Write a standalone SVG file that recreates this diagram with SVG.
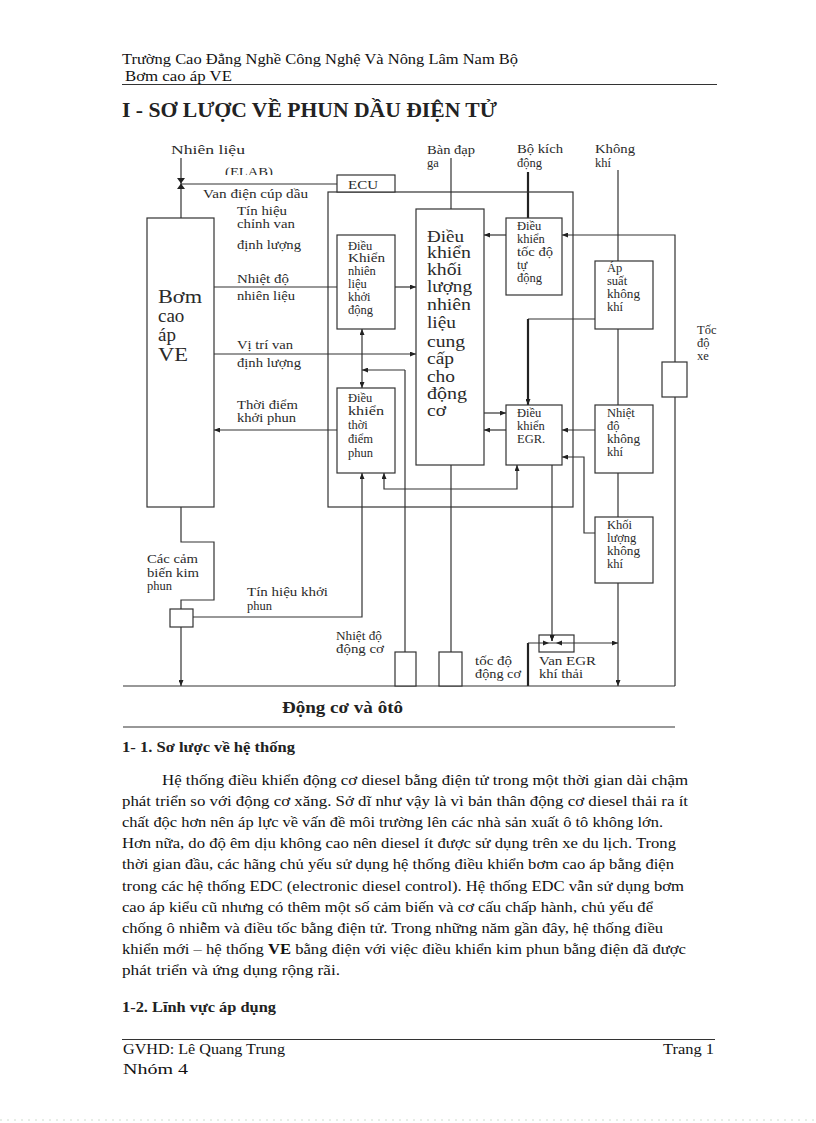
<svg xmlns="http://www.w3.org/2000/svg" width="816" height="1123" viewBox="0 0 816 1123">
<style>
.ln{fill:none;stroke:#333;stroke-width:1.2}
.th{fill:none;stroke:#222;stroke-width:2.2}
.bx{fill:#fff;stroke:#333;stroke-width:1.2}
.fr{fill:none;stroke:#333;stroke-width:1.2}
.lb{font-family:"Liberation Serif","Times New Roman",serif;font-size:12.5px;fill:#2a2a2a}
.bl{font-family:"Liberation Serif","Times New Roman",serif;font-size:12.5px;fill:#2a2a2a}
.big{font-family:"Liberation Serif","Times New Roman",serif;font-size:16px;fill:#2a2a2a}
.pump{font-family:"Liberation Serif","Times New Roman",serif;font-size:19px;fill:#2a2a2a}
.tx{font-family:"Liberation Serif","Times New Roman",serif;font-size:15.5px;fill:#111}
.hd{font-family:"Liberation Serif","Times New Roman",serif;font-weight:bold;fill:#222}
.rule{stroke:#333;stroke-width:1}
</style>
<defs>
<marker id="ar" viewBox="0 0 6 5" markerWidth="6" markerHeight="5" refX="6" refY="2.5" orient="auto-start-reverse" markerUnits="userSpaceOnUse">
<path d="M0,0 L6,2.5 L0,5 z" fill="#222"/>
</marker>
<clipPath id="elabclip"><rect x="200" y="150" width="100" height="25"/></clipPath>
</defs>
<rect width="816" height="1123" fill="#fff"/>

<!-- header -->
<g id="header">
<text class="tx" x="122" y="64" textLength="396" lengthAdjust="spacingAndGlyphs">Trường Cao Đẳng Nghề Công Nghệ Và Nông Lâm Nam Bộ</text>
<text class="tx" x="125" y="81" textLength="107" lengthAdjust="spacingAndGlyphs">Bơm cao áp VE</text>
<line class="rule" x1="122" y1="84.5" x2="717" y2="84.5"/>
<text class="hd" x="122" y="117" font-size="20" textLength="375" lengthAdjust="spacingAndGlyphs">I - SƠ LƯỢC VỀ PHUN DẦU ĐIỆN TỬ</text>
</g>

<!-- connectors -->
<g id="connectors">
<path class="ln" d="M181,158 V218"/>
<path class="ln" d="M181,184 H337"/>
<polygon points="177,178 185,178 181,183.5" fill="#222"/>
<polygon points="177,189 185,189 181,183.5" fill="#222"/>
<path class="ln" d="M214,287 H337"/>
<path class="ln" d="M395,287 H416" marker-end="url(#ar)"/>
<path class="ln" d="M214,354 H416" marker-end="url(#ar)"/>
<path class="ln" d="M337,430 H214" marker-end="url(#ar)"/>
<path class="ln" d="M362,329 V388" marker-start="url(#ar)" marker-end="url(#ar)"/>
<path class="ln" d="M405,370 H362" marker-end="url(#ar)"/>
<path class="ln" d="M405,370 V652"/>
<path class="ln" d="M193,617 H362 V473" marker-end="url(#ar)"/>
<path class="ln" d="M384,473 V489 H517 V465" marker-start="url(#ar)" marker-end="url(#ar)"/>
<path class="ln" d="M181,507 V542 H214 V600 H181 V609"/>
<path class="ln" d="M181,627 V686" marker-end="url(#ar)"/>
<path class="ln" d="M451,158 V209"/>
<path class="th" d="M528,172 V218"/>
<path class="ln" d="M506,235 H484" marker-end="url(#ar)"/>
<path class="ln" d="M675,686 V235 H562" marker-end="url(#ar)"/>
<path class="ln" d="M618,170 V261"/>
<path class="ln" d="M595,319 H528"/>
<path class="th" d="M528,319 V405" marker-end="url(#ar)"/>
<path class="ln" d="M618,329 V405"/>
<path class="ln" d="M618,473 V517"/>
<path class="ln" d="M618,583 V686" marker-end="url(#ar)"/>
<path class="ln" d="M484,413 H506" marker-end="url(#ar)"/>
<path class="ln" d="M506,430 H484" marker-end="url(#ar)"/>
<path class="ln" d="M595,430 H562" marker-end="url(#ar)"/>
<path class="ln" d="M595,533 H584 V457 H562" marker-end="url(#ar)"/>
<path class="ln" d="M451,465 V652"/>
<path class="ln" d="M552,465 V641" marker-end="url(#ar)"/>
<path class="th" d="M528,686 V643"/>
<path class="ln" d="M528,643 H618" marker-end="url(#ar)"/>
<path class="ln" d="M123,686 H675"/>
<path class="ln" d="M123,727 H675"/>
</g>

<!-- ECU frame -->
<g id="ecu">
<rect class="fr" x="328" y="192" width="245" height="315"/>
<rect class="bx" x="337" y="175" width="58" height="17"/>
<text class="lb" x="348" y="189" textLength="30" lengthAdjust="spacingAndGlyphs">ECU</text>
</g>

<g id="bom-cao-ap">
<rect class="bx" x="147" y="218" width="67" height="289"/>
<text class="pump" x="158" y="303" textLength="44" lengthAdjust="spacingAndGlyphs">Bơm</text>
<text class="pump" x="158" y="322">cao</text>
<text class="pump" x="158" y="341">áp</text>
<text class="pump" x="158" y="361" textLength="30" lengthAdjust="spacingAndGlyphs">VE</text>
</g>

<g id="dk-nhien-lieu-khoi-dong">
<rect class="bx" x="337" y="235" width="58" height="94"/>
<text class="bl" x="348" y="250">Điều</text>
<text class="bl" x="348" y="262" textLength="37" lengthAdjust="spacingAndGlyphs">Khiển</text>
<text class="bl" x="348" y="275">nhiên</text>
<text class="bl" x="348" y="288">liệu</text>
<text class="bl" x="348" y="301">khởi</text>
<text class="bl" x="348" y="314">động</text>
</g>

<g id="dk-thoi-diem-phun">
<rect class="bx" x="337" y="388" width="58" height="85"/>
<text class="bl" x="348" y="402">Điều</text>
<text class="bl" x="348" y="415" textLength="36" lengthAdjust="spacingAndGlyphs">khiển</text>
<text class="bl" x="348" y="429">thời</text>
<text class="bl" x="348" y="443">điểm</text>
<text class="bl" x="348" y="457">phun</text>
</g>

<g id="dk-khoi-luong-nhien-lieu">
<rect class="bx" x="416" y="209" width="68" height="256"/>
<text class="big" x="427" y="242" textLength="37" lengthAdjust="spacingAndGlyphs">Điều</text>
<text class="big" x="427" y="258" textLength="44" lengthAdjust="spacingAndGlyphs">khiển</text>
<text class="big" x="427" y="275" textLength="35" lengthAdjust="spacingAndGlyphs">khối</text>
<text class="big" x="427" y="292" textLength="45" lengthAdjust="spacingAndGlyphs">lượng</text>
<text class="big" x="427" y="310" textLength="44" lengthAdjust="spacingAndGlyphs">nhiên</text>
<text class="big" x="427" y="328" textLength="29" lengthAdjust="spacingAndGlyphs">liệu</text>
<text class="big" x="427" y="347" textLength="38" lengthAdjust="spacingAndGlyphs">cung</text>
<text class="big" x="427" y="364" textLength="27" lengthAdjust="spacingAndGlyphs">cấp</text>
<text class="big" x="427" y="382" textLength="28" lengthAdjust="spacingAndGlyphs">cho</text>
<text class="big" x="427" y="399" textLength="40" lengthAdjust="spacingAndGlyphs">động</text>
<text class="big" x="427" y="416" textLength="19" lengthAdjust="spacingAndGlyphs">cơ</text>
</g>

<g id="dk-toc-do-tu-dong">
<rect class="bx" x="506" y="218" width="56" height="77"/>
<text class="bl" x="517" y="230">Điều</text>
<text class="bl" x="517" y="243">khiển</text>
<text class="bl" x="517" y="256" textLength="36" lengthAdjust="spacingAndGlyphs">tốc độ</text>
<text class="bl" x="517" y="269">tự</text>
<text class="bl" x="517" y="282">động</text>
</g>

<g id="dk-egr">
<rect class="bx" x="506" y="405" width="56" height="60"/>
<text class="bl" x="517" y="417">Điều</text>
<text class="bl" x="517" y="430">khiển</text>
<text class="bl" x="517" y="443">EGR.</text>
</g>

<g id="ap-suat-khong-khi">
<rect class="bx" x="595" y="261" width="58" height="68"/>
<text class="bl" x="607" y="272">Áp</text>
<text class="bl" x="607" y="285">suất</text>
<text class="bl" x="607" y="298" textLength="33" lengthAdjust="spacingAndGlyphs">không</text>
<text class="bl" x="607" y="311">khí</text>
</g>

<g id="nhiet-do-khong-khi">
<rect class="bx" x="595" y="405" width="58" height="68"/>
<text class="bl" x="607" y="417">Nhiệt</text>
<text class="bl" x="607" y="430">độ</text>
<text class="bl" x="607" y="443" textLength="33" lengthAdjust="spacingAndGlyphs">không</text>
<text class="bl" x="607" y="456">khí</text>
</g>

<g id="khoi-luong-khong-khi">
<rect class="bx" x="595" y="517" width="58" height="66"/>
<text class="bl" x="607" y="529">Khối</text>
<text class="bl" x="607" y="542">lượng</text>
<text class="bl" x="607" y="555" textLength="33" lengthAdjust="spacingAndGlyphs">không</text>
<text class="bl" x="607" y="568">khí</text>
</g>

<g id="cam-bien-toc-do-xe">
<rect class="bx" x="662" y="362" width="25" height="35"/>
</g>
<g id="cam-bien-kim-phun">
<rect class="bx" x="170" y="609" width="23" height="18"/>
</g>
<g id="cam-bien-nhiet-do-dong-co">
<rect class="bx" x="395" y="652" width="21" height="34"/>
</g>
<g id="cam-bien-toc-do-dong-co">
<rect class="bx" x="439" y="652" width="23" height="34"/>
</g>
<g id="van-egr">
<rect class="fr" x="539" y="635" width="35" height="17"/>
<path class="ln" d="M552,635 V641" marker-end="url(#ar)"/>
<polygon points="543,640.5 549,643 543,645.5" fill="#222"/>
<polygon points="562,640.5 556,643 562,645.5" fill="#222"/>
</g>

<!-- labels -->
<g id="labels">
<text class="lb" x="171" y="154" textLength="74" lengthAdjust="spacingAndGlyphs">Nhiên liệu</text>
<text class="lb" x="225" y="176" textLength="48" lengthAdjust="spacingAndGlyphs" clip-path="url(#elabclip)">(ELAB)</text>
<text class="lb" x="203" y="198" textLength="105" lengthAdjust="spacingAndGlyphs">Van điện cúp dầu</text>
<text class="lb" x="237" y="215" textLength="50" lengthAdjust="spacingAndGlyphs">Tín hiệu</text>
<text class="lb" x="237" y="228" textLength="58" lengthAdjust="spacingAndGlyphs">chỉnh van</text>
<text class="lb" x="237" y="249" textLength="64" lengthAdjust="spacingAndGlyphs">định lượng</text>
<text class="lb" x="237" y="283" textLength="52" lengthAdjust="spacingAndGlyphs">Nhiệt độ</text>
<text class="lb" x="237" y="300" textLength="58" lengthAdjust="spacingAndGlyphs">nhiên liệu</text>
<text class="lb" x="237" y="349" textLength="56" lengthAdjust="spacingAndGlyphs">Vị trí van</text>
<text class="lb" x="237" y="367" textLength="64" lengthAdjust="spacingAndGlyphs">định lượng</text>
<text class="lb" x="237" y="409" textLength="61" lengthAdjust="spacingAndGlyphs">Thời điểm</text>
<text class="lb" x="237" y="422" textLength="59" lengthAdjust="spacingAndGlyphs">khởi phun</text>
<text class="lb" x="427" y="154" textLength="48" lengthAdjust="spacingAndGlyphs">Bàn đạp</text>
<text class="lb" x="427" y="167">ga</text>
<text class="lb" x="517" y="153" textLength="46" lengthAdjust="spacingAndGlyphs">Bộ kích</text>
<text class="lb" x="517" y="167">động</text>
<text class="lb" x="595" y="153" textLength="40" lengthAdjust="spacingAndGlyphs">Không</text>
<text class="lb" x="595" y="167">khí</text>
<text class="lb" x="697" y="334">Tốc</text>
<text class="lb" x="697" y="347">độ</text>
<text class="lb" x="697" y="360">xe</text>
<text class="lb" x="147" y="563" textLength="51" lengthAdjust="spacingAndGlyphs">Các cảm</text>
<text class="lb" x="147" y="577" textLength="52" lengthAdjust="spacingAndGlyphs">biến kim</text>
<text class="lb" x="147" y="590">phun</text>
<text class="lb" x="247" y="596" textLength="81" lengthAdjust="spacingAndGlyphs">Tín hiệu khởi</text>
<text class="lb" x="247" y="610">phun</text>
<text class="lb" x="336" y="640" textLength="46" lengthAdjust="spacingAndGlyphs">Nhiệt độ</text>
<text class="lb" x="336" y="653" textLength="48" lengthAdjust="spacingAndGlyphs">động cơ</text>
<text class="lb" x="475" y="665" textLength="37" lengthAdjust="spacingAndGlyphs">tốc độ</text>
<text class="lb" x="475" y="678" textLength="46" lengthAdjust="spacingAndGlyphs">động cơ</text>
<text class="lb" x="539" y="665" textLength="57" lengthAdjust="spacingAndGlyphs">Van EGR</text>
<text class="lb" x="539" y="678" textLength="44" lengthAdjust="spacingAndGlyphs">khí thải</text>
<text class="hd" x="282" y="713" font-size="16" textLength="121" lengthAdjust="spacingAndGlyphs">Động cơ và ôtô</text>
</g>

<!-- body -->
<g id="body">
<text class="hd" x="122" y="752" font-size="15" textLength="173" lengthAdjust="spacingAndGlyphs">1- 1. Sơ lược về hệ thống</text>
<text class="tx" x="162" y="785" textLength="526" lengthAdjust="spacingAndGlyphs">Hệ thống  điều khiển  động cơ diesel  bằng điện tử trong  một thời gian  dài chậm</text>
<text class="tx" x="122" y="806" textLength="566" lengthAdjust="spacingAndGlyphs">phát triển  so với  động cơ xăng.  Sở dĩ như vậy là vì bản thân  động cơ diesel  thải ra ít</text>
<text class="tx" x="122" y="827" textLength="541" lengthAdjust="spacingAndGlyphs">chất độc hơn nên áp lực về  vấn  đề môi  trường lên các nhà sản xuất ô tô không lớn.</text>
<text class="tx" x="122" y="848" textLength="554" lengthAdjust="spacingAndGlyphs">Hơn nữa, do độ êm dịu không  cao nên diesel ít được sử dụng trên xe du lịch.  Trong</text>
<text class="tx" x="122" y="869" textLength="552" lengthAdjust="spacingAndGlyphs">thời gian  đầu, các hãng chủ yếu sử dụng hệ thống  điều khiển  bơm cao áp bằng điện</text>
<text class="tx" x="122" y="891" textLength="562" lengthAdjust="spacingAndGlyphs">trong các hệ thống EDC (electronic  diesel control).  Hệ thống  EDC vẫn sử dụng bơm</text>
<text class="tx" x="122" y="912" textLength="531" lengthAdjust="spacingAndGlyphs">cao áp kiểu  cũ nhưng có thêm  một số cảm biến và cơ cấu chấp hành,  chủ yếu để</text>
<text class="tx" x="122" y="933" textLength="541" lengthAdjust="spacingAndGlyphs">chống  ô nhiễm  và điều tốc bằng điện tử. Trong những  năm gần đây, hệ thống  điều</text>
<text class="tx" x="122" y="954" textLength="564" lengthAdjust="spacingAndGlyphs">khiển  mới  – hệ thống  <tspan font-weight="bold">VE</tspan> bằng  điện với việc  điều khiển  kim phun bằng điện đã được</text>
<text class="tx" x="122" y="975" textLength="218" lengthAdjust="spacingAndGlyphs">phát triển  và ứng dụng rộng rãi.</text>
<text class="hd" x="122" y="1012" font-size="15" textLength="154" lengthAdjust="spacingAndGlyphs">1-2. Lĩnh vực áp dụng</text>
</g>

<!-- footer -->
<g id="footer">
<line class="rule" x1="122" y1="1039.5" x2="715" y2="1039.5"/>
<text class="tx" x="123" y="1054" textLength="162" lengthAdjust="spacingAndGlyphs">GVHD: Lê Quang Trung</text>
<text class="tx" x="663" y="1054" textLength="51" lengthAdjust="spacingAndGlyphs">Trang 1</text>
<text class="tx" x="123" y="1074" textLength="65" lengthAdjust="spacingAndGlyphs">Nhóm 4</text>
<line x1="0" y1="1120" x2="816" y2="1120" stroke="#cfdccf" stroke-width="1" stroke-dasharray="2,5"/>
</g>
</svg>
